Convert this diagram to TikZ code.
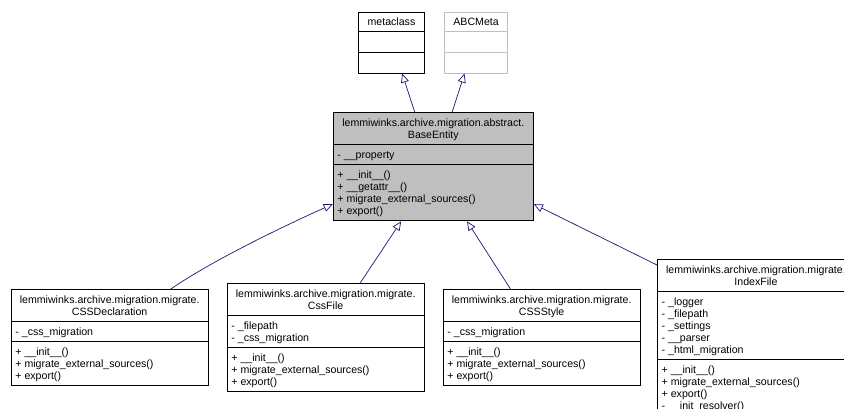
\documentclass[tikz,border=0pt]{standalone}
\usepackage{fontspec}
\setmainfont{Liberation Sans}
\usetikzlibrary{arrows.meta,positioning,calc}
\definecolor{EdgeB}{RGB}{25,25,112}
\definecolor{GreyF}{RGB}{191,191,191}

\tikzset{
  classbox/.style={draw=black,line width=0.9pt,minimum width=197pt,
    inner sep=0pt,anchor=north west},
  rowtext/.style={font=\fontsize{10.6pt}{12pt}\selectfont,inner sep=0pt,
    align=left,anchor=north west},
  headtext/.style={rowtext,align=center,anchor=north},
  inherit/.style={EdgeB,line width=0.7pt,
    -{Triangle[open,length=9pt,width=8pt]}},
}

\begin{document}
\begin{tikzpicture}[x=1pt,y=-1pt]
  \useasboundingbox (0,0) rectangle (844,409);
  \clip (0,0) rectangle (844,409);

  % parents
  \node[classbox,minimum width=66.6pt,minimum height=61pt] (meta) at (357.7,11.7) {};
  \draw[line width=0.9pt] (meta.west |- 0,31.7) -- (meta.east |- 0,31.7);
  \draw[line width=0.9pt] (meta.west |- 0,52.2) -- (meta.east |- 0,52.2);
  \node[headtext] (meta-title) at (meta.north |- 0,17.1) {\strut metaclass};

  \node[classbox,draw=GreyF,minimum width=63.3pt,minimum height=61pt] (abc) at (444,11.7) {};
  \draw[GreyF,line width=0.9pt] (abc.west |- 0,31.7) -- (abc.east |- 0,31.7);
  \draw[GreyF,line width=0.9pt] (abc.west |- 0,52.2) -- (abc.east |- 0,52.2);
  \node[headtext] (abc-title) at (abc.north |- 0,17.1) {\strut ABCMeta};

  % base entity
  \node[classbox,fill=GreyF,minimum width=200.3pt,minimum height=108.2pt] (base) at (332.7,112.3) {};
  \draw[line width=0.9pt] (base.west |- 0,144.3) -- (base.east |- 0,144.3);
  \draw[line width=0.9pt] (base.west |- 0,164.3) -- (base.east |- 0,164.3);
  \node[headtext] (base-title) at (base.north |- 0,117.7)
    {\strut lemmiwinks.archive.migration.abstract.\\BaseEntity};
  \node[rowtext] (base-attr) at (337.2,149.7) {\strut - \_\_property};
  \node[rowtext] (base-ops) at (337.2,169.7)
    {\strut + \_\_init\_\_()\\+ \_\_getattr\_\_()\\+ migrate\_external\_sources()\\+ export()};

  % children
  \node[classbox,minimum height=96pt] (decl) at (10.7,289.3) {};
  \draw[line width=0.9pt] (decl.west |- 0,321.3) -- (decl.east |- 0,321.3);
  \draw[line width=0.9pt] (decl.west |- 0,341.3) -- (decl.east |- 0,341.3);
  \node[headtext] (decl-title) at (decl.north |- 0,294.7)
    {\strut lemmiwinks.archive.migration.migrate.\\CSSDeclaration};
  \node[rowtext] (decl-attr) at (15.2,326.7) {\strut - \_css\_migration};
  \node[rowtext] (decl-ops) at (15.2,346.7)
    {\strut + \_\_init\_\_()\\+ migrate\_external\_sources()\\+ export()};

  \node[classbox,minimum height=108pt] (cssfile) at (226.7,283.3) {};
  \draw[line width=0.9pt] (cssfile.west |- 0,315.3) -- (cssfile.east |- 0,315.3);
  \draw[line width=0.9pt] (cssfile.west |- 0,347.3) -- (cssfile.east |- 0,347.3);
  \node[headtext] (cssfile-title) at (cssfile.north |- 0,288.7)
    {\strut lemmiwinks.archive.migration.migrate.\\CssFile};
  \node[rowtext] (cssfile-attr) at (231.2,320.7) {\strut - \_filepath\\- \_css\_migration};
  \node[rowtext] (cssfile-ops) at (231.2,352.7)
    {\strut + \_\_init\_\_()\\+ migrate\_external\_sources()\\+ export()};

  \node[classbox,minimum height=96pt] (style) at (442.7,289.3) {};
  \draw[line width=0.9pt] (style.west |- 0,321.3) -- (style.east |- 0,321.3);
  \draw[line width=0.9pt] (style.west |- 0,341.3) -- (style.east |- 0,341.3);
  \node[headtext] (style-title) at (style.north |- 0,294.7)
    {\strut lemmiwinks.archive.migration.migrate.\\CSSStyle};
  \node[rowtext] (style-attr) at (447.2,326.7) {\strut - \_css\_migration};
  \node[rowtext] (style-ops) at (447.2,346.7)
    {\strut + \_\_init\_\_()\\+ migrate\_external\_sources()\\+ export()};

  \node[classbox,minimum height=156pt] (index) at (657,259.3) {};
  \draw[line width=0.9pt] (index.west |- 0,291.3) -- (index.east |- 0,291.3);
  \draw[line width=0.9pt] (index.west |- 0,359.3) -- (index.east |- 0,359.3);
  \node[headtext] (index-title) at (index.north |- 0,264.7)
    {\strut lemmiwinks.archive.migration.migrate.\\IndexFile};
  \node[rowtext] (index-attr) at (661.5,296.7)
    {\strut - \_logger\\- \_filepath\\- \_settings\\- \_\_parser\\- \_html\_migration};
  \node[rowtext] (index-ops) at (661.5,364.7)
    {\strut + \_\_init\_\_()\\+ migrate\_external\_sources()\\+ export()\\- \_\_init\_resolver()};

  % inheritance
  \draw[inherit] ([xshift=-18.5pt]base.north) -- ([xshift=10.7pt]meta.south);
  \draw[inherit] ([xshift=18.8pt]base.north) -- ([xshift=-11.6pt]abc.south);
  \draw[inherit] ([xshift=60.8pt]decl.north) .. controls +(40,-28) and +(-45,20)
    .. ([yshift=17.2pt]base.south west);
  \draw[inherit] ([xshift=34.3pt]cssfile.north) -- ([xshift=-32.2pt]base.south);
  \draw[inherit] ([xshift=-31pt]style.north) -- ([xshift=33.8pt]base.south);
  \draw[inherit] ([yshift=-5.7pt]index.north west) -- ([yshift=17.2pt]base.south east);
\end{tikzpicture}
\end{document}
